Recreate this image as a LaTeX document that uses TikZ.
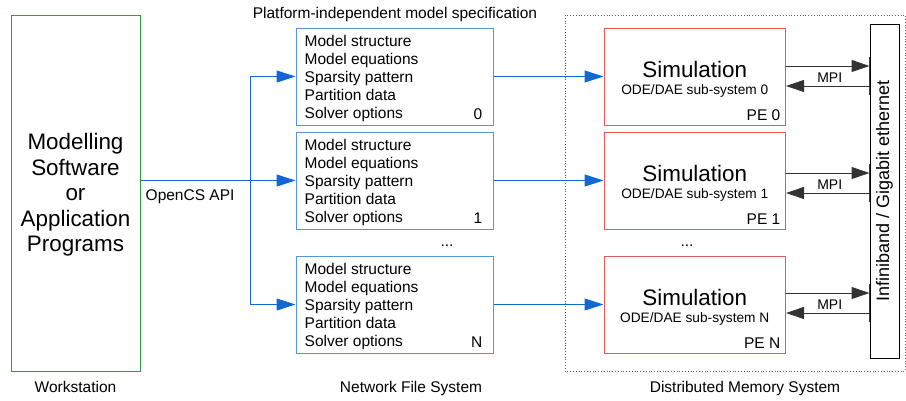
\documentclass[tikz,border=0pt]{standalone}
\usepackage{fontspec}
\setmainfont{Liberation Sans}
\usetikzlibrary{arrows.meta,positioning,calc}
\definecolor{wsgreen}{RGB}{52,150,68}
\definecolor{fsblue}{RGB}{88,150,220}
\definecolor{arrblue}{RGB}{16,104,208}
\definecolor{pered}{RGB}{226,90,90}
\definecolor{netedge}{RGB}{40,60,110}
\tikzset{
  txt/.style={font=\fontsize{15.5}{18}\selectfont, inner sep=0pt},
  wsbox/.style={draw=wsgreen, line width=1pt, minimum width=129pt, minimum height=356pt, inner sep=0pt},
  specbox/.style={draw=fsblue, line width=1pt, minimum width=197pt, minimum height=97pt, inner sep=0pt},
  simbox/.style={draw=pered, line width=1pt, minimum width=181.5pt, minimum height=97pt, inner sep=0pt},
  netbar/.style={draw=black, line width=1pt, minimum width=29pt, minimum height=334pt, inner sep=0pt},
  feed/.style={draw=arrblue, line width=1pt, -{Triangle[length=19pt,width=12pt]}},
  link/.style={draw=arrblue, line width=1pt},
  mpi/.style={draw=black!80, line width=1pt, -{Triangle[length=18pt,width=12pt]}},
}
\begin{document}
\begin{tikzpicture}[x=1pt,y=-1pt]
\useasboundingbox (0,0) rectangle (906,400);

% distributed memory system frame
\draw[gray!70!black, line width=0.8pt, dotted] (565,15) rectangle (905,371);

% workstation
\node[wsbox] (ws) at (75.5,193) {};
\node[align=center, inner sep=0pt, font=\fontsize{22.4}{25.5}\selectfont] (wstext) at ($(ws.center)+(0,2)$)
  {Modelling\\Software\\or\\Application\\Programs};
\node[txt, anchor=base] (wslabel) at (75.5,392) {Workstation};

% model specification files
\node[txt, anchor=base] (spectitle) at (395,18) {Platform-independent model specification};
\foreach \i/\y/\k in {0/76.5/0, 1/180.5/1, 2/304.5/N} {
  \node[specbox] (spec\i) at (394.5,\y) {};
  \foreach \j/\entry in {0/Model structure, 1/Model equations, 2/Sparsity pattern, 3/Partition data, 4/Solver options} {
    \node[txt, anchor=base west] (spec\i line\j) at ($(spec\i.north west)+(9,18.5+18*\j)$) {\entry};
  }
  \node[txt, anchor=base east] (specnum\i) at ($(spec\i.south east)+(-11,-6)$) {\k};
}
\node[txt, anchor=base] (specdots) at (447,246) {...};
\node[txt, anchor=base] (nfslabel) at (411,392) {Network File System};

% simulation processes
\foreach \i/\y/\k in {0/76.5/0, 1/180.5/1, 2/304.5/N} {
  \node[simbox] (sim\i) at (694.75,\y) {};
  \node[anchor=base, inner sep=0pt, font=\fontsize{22.4}{26}\selectfont] (simname\i) at ($(sim\i.north)+(0,49.5)$) {Simulation};
  \node[anchor=base, inner sep=0pt, font=\fontsize{13.7}{16}\selectfont] (simsub\i) at ($(sim\i.north)+(0,67)$) {ODE/DAE sub-system \k};
  \node[txt, anchor=base east] (simpe\i) at ($(sim\i.south east)+(-5.5,-5)$) {PE \k};
}
\node[txt, anchor=base] (simdots) at (687,246) {...};
\node[txt, anchor=base] (dmslabel) at (745,392) {Distributed Memory System};

% interconnect
\node[netbar] (net) at (884.5,191) {};
\node[rotate=90, inner sep=0pt, font=\fontsize{18}{20}\selectfont] (nettext) at (net.center) {Infiniband / Gigabit ethernet};

% API fan-out from the workstation
\coordinate (fork) at (250,180.5);
\coordinate (forktop) at (250,76.5);
\coordinate (forkbot) at (250,304.5);
\draw[link] (ws.east |- fork) -- (fork);
\draw[link] (forktop) -- (forkbot);
\path[feed] (forktop) -- (spec0.west);
\path[feed] (fork) -- (spec1.west);
\path[feed] (forkbot) -- (spec2.west);
\node[txt, anchor=base west] (apilabel) at (145.5,200) {OpenCS API};

% files loaded by each process
\foreach \i in {0,1,2} {
  \path[feed] (spec\i.east) -- (sim\i.west);
}

% MPI exchange with the interconnect
\foreach \i/\off in {0/-10.5, 1/-7.5, 2/-11.5} {
  \coordinate (out\i) at ($(sim\i.east)+(0,\off)$);
  \coordinate (in\i) at ($(sim\i.east)+(0,\off+20)$);
  \coordinate (port\i) at ($(net.west |- out\i)+(0,-9)$);
  \coordinate (portend\i) at ($(net.west |- in\i)+(0,9)$);
  \draw[netedge, line width=1pt] (port\i) -- (portend\i);
  \path[mpi] (out\i) -- (net.west |- out\i);
  \path[mpi] (net.west |- in\i) -- (in\i);
  \node[anchor=base, inner sep=0pt, font=\fontsize{14}{16}\selectfont] (mpilabel\i) at ($(out\i)!0.5!(net.west |- out\i)+(2,16)$) {MPI};
}
\end{tikzpicture}
\end{document}
